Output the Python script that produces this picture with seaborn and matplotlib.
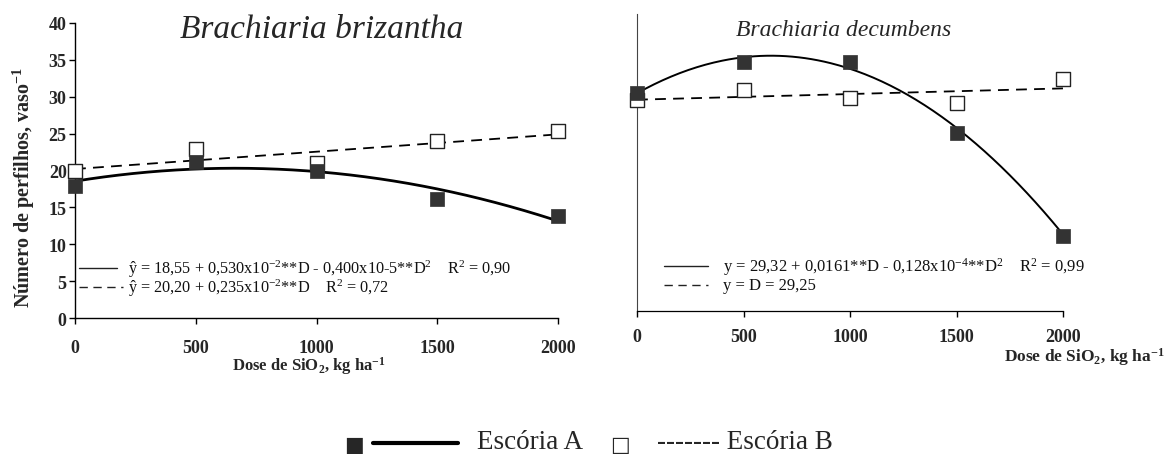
import numpy as np
import pandas as pd
import matplotlib
matplotlib.use("Agg")
import matplotlib.pyplot as plt
from matplotlib.lines import Line2D
import seaborn as sns

# ---------------- data ----------------
doses = [0, 500, 1000, 1500, 2000]
brizantha_A = [17.9, 21.2, 20.0, 16.2, 13.8]
brizantha_B = [20.0, 22.9, 21.0, 24.0, 25.3]
decumbens_A = [29.4, 33.5, 33.5, 24.0, 10.1]
decumbens_B = [28.4, 29.8, 28.7, 28.0, 31.2]
# regression coefficients (constant, D, D^2) as printed on the chart
fit_briz_A = [18.55, 0.530e-2, -0.400e-5]
fit_briz_B = [20.20, 0.235e-2]
fit_dec_A = [29.32, 0.0161, -0.128e-4]
xticks = [0, 500, 1000, 1500, 2000]
yticks = [0, 5, 10, 15, 20, 25, 30, 35, 40]
title_left = "Brachiaria brizantha"
title_right = "Brachiaria decumbens"
ylabel = "Número de perfilhos, vaso$^{\\mathbf{-1}}$"
xlabel = "Dose de SiO$_\\mathbf{2}$, kg ha$^{\\mathbf{-1}}$"
eq_left = ["ŷ = 18,55 + 0,530x10$^{-2}$**D - 0,400x10-5**D$^{2}$    R$^{2}$ = 0,90",
           "ŷ = 20,20 + 0,235x10$^{-2}$**D    R$^{2}$ = 0,72"]
eq_right = ["y = 29,32 + 0,0161**D - 0,128x10$^{-4}$**D$^{2}$    R$^{2}$ = 0,99",
            "y = D = 29,25"]
legend_labels = ["Escória A", "Escória B"]

# ---------------- style ----------------
sns.set_style("ticks")
plt.rcParams['font.family'] = ['Liberation Serif', 'DejaVu Sans']
plt.rcParams['mathtext.fontset'] = 'custom'
plt.rcParams['mathtext.rm'] = 'Liberation Serif'
plt.rcParams['mathtext.it'] = 'Liberation Serif:italic'
plt.rcParams['mathtext.bf'] = 'Liberation Serif:bold'

W, H = 1166, 456
fig = plt.figure(figsize=(W / 100, H / 100), dpi=100)
fig.patch.set_facecolor('white')

def fx(x):
    return x / W

def fy(y):
    return 1 - y / H

ax1 = fig.add_axes([fx(75), fy(319), (558 - 75) / W, (319 - 24) / H])
ax2 = fig.add_axes([fx(637), fy(312), (1063 - 637) / W, (312 - 15) / H])

dgrid = np.linspace(0, 2000, 201)

def poly(c, d):
    return sum(ci * d ** i for i, ci in enumerate(c))

dec_B_fit = np.polyfit(doses, decumbens_B, 1)[::-1]

panels = [
    (ax1, brizantha_A, brizantha_B, fit_briz_A, fit_briz_B, 2.0, 11),
    (ax2, decumbens_A, decumbens_B, fit_dec_A, list(dec_B_fit), 1.4, 8),
]

for ax, yA, yB, cA, cB, lwA, pad in panels:
    ax.set_facecolor('white')
    sns.lineplot(x=dgrid, y=poly(cB, dgrid), ax=ax, color='black', lw=1.3,
                 dashes=False, linestyle=(0, (6, 4)), zorder=2)
    sns.lineplot(x=dgrid, y=poly(cA, dgrid), ax=ax, color='black', lw=lwA, zorder=2)
    sns.scatterplot(x=doses, y=yB, ax=ax, marker='s', s=95, facecolor='white',
                    edgecolor='#222222', linewidth=1.0, clip_on=False, zorder=3)
    sns.scatterplot(x=doses, y=yA, ax=ax, marker='s', s=95, color='#333333',
                    edgecolor='#333333', linewidth=0.5, clip_on=False, zorder=4)
    ax.set_xlim(0, 2000)
    ax.set_ylim(0, 40)
    ax.set_xticks(xticks)
    ax.set_xticklabels([str(t) for t in xticks], fontweight='bold', fontsize=13)
    ax.tick_params(axis='x', direction='out', length=4, width=1, pad=pad, color='black')
    ax.set_xlabel('')
    ax.set_ylabel('')
    for s in ['top', 'right']:
        ax.spines[s].set_visible(False)
    ax.spines['bottom'].set_color('black')
    ax.spines['left'].set_color('black')
    ax.spines['bottom'].set_linewidth(1.0)
    ax.spines['left'].set_linewidth(1.0)

ax1.set_yticks(yticks)
ax1.set_yticklabels([str(t) for t in yticks], fontweight='bold', fontsize=13)
ax1.tick_params(axis='y', direction='out', length=4, width=1, pad=2, color='black')
ax2.set_yticks([])
ax2.spines['left'].set_color('#444444')
ax2.spines['left'].set_linewidth(0.8)
ax2.spines['bottom'].set_linewidth(0.9)

# titles
fig.text(fx(322), fy(30), title_left, fontsize=24, style='italic', ha='center', va='center')
fig.text(fx(844), fy(30), title_right, fontsize=17, style='italic', ha='center', va='center')

# axis labels
fig.text(fx(24), fy(187), ylabel, fontsize=14.5, fontweight='bold', rotation=90,
         ha='center', va='center')
fig.text(fx(386), fy(366), xlabel, fontsize=12, fontweight='bold', ha='right', va='center')
fig.text(fx(1165), fy(357), xlabel, fontsize=12.5, fontweight='bold', ha='right', va='center')

# equation keys
def key(x0, x1, y, dashed, lw=1.0):
    ls = (0, (6, 4)) if dashed else '-'
    fig.add_artist(Line2D([fx(x0), fx(x1)], [fy(y), fy(y)], transform=fig.transFigure,
                          color='#222222', lw=lw, linestyle=ls))

key(79, 117, 269, False)
key(79, 123, 288, True)
fig.text(fx(128), fy(269), eq_left[0], fontsize=11.7, ha='left', va='center', color='#111111')
fig.text(fx(128), fy(288), eq_left[1], fontsize=11.7, ha='left', va='center', color='#111111')

key(664, 708, 267, False)
key(664, 708, 286, True)
fig.text(fx(723), fy(267), eq_right[0], fontsize=12, ha='left', va='center', color='#111111')
fig.text(fx(723), fy(286), eq_right[1], fontsize=12, ha='left', va='center', color='#111111')

# bottom legend
fig.text(fx(354), fy(445), "■", fontsize=15, ha='center', va='center',
         family=['DejaVu Sans'])
fig.add_artist(Line2D([fx(373), fx(458)], [fy(444), fy(444)], transform=fig.transFigure,
                      color='black', lw=3))
fig.text(fx(477), fy(443), legend_labels[0], fontsize=19.5, ha='left', va='center')
fig.text(fx(620), fy(445), "□", fontsize=15, ha='center', va='center',
         family=['DejaVu Sans'])
fig.text(fx(657), fy(443), "------- " + legend_labels[1], fontsize=19.5, ha='left', va='center')

fig.savefig("out.png", dpi=100, facecolor='white')
